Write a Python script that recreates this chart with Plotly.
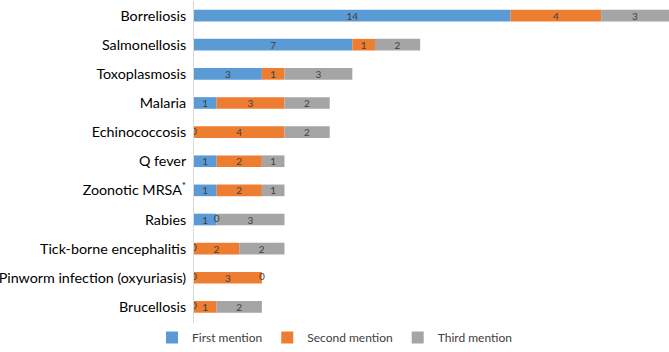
import plotly.graph_objects as go

categories = ["Borreliosis", "Salmonellosis", "Toxoplasmosis", "Malaria", "Echinococcosis",
              "Q fever", "Zoonotic MRSA<sup>*</sup>", "Rabies", "Tick-borne encephalitis",
              "Pinworm infection (oxyuriasis)", "Brucellosis"]
first = [14, 7, 3, 1, 0, 1, 1, 1, 0, 0, 0]
second = [4, 1, 1, 3, 4, 2, 2, 0, 2, 3, 1]
third = [3, 2, 3, 2, 2, 1, 1, 3, 2, 0, 2]

series = [("First mention", first, "#5B9BD5"),
          ("Second mention", second, "#ED7D31"),
          ("Third mention", third, "#A5A5A5")]

FONT = "Lato, Open Sans, sans-serif"
fig = go.Figure()
base = [0] * len(categories)
zx, zy = [], []
for name, vals, color in series:
    fig.add_trace(go.Bar(
        name=name, y=categories, x=vals, base=base, orientation="h",
        marker=dict(color=color, line=dict(width=0)), width=0.4,
        text=[str(v) if v else " " for v in vals], textposition="inside",
        insidetextanchor="middle", textangle=0,
        textfont=dict(color="#404040", size=10, family=FONT),
    ))
    for c, b, v in zip(categories, base, vals):
        if v == 0:
            zx.append(b)
            zy.append(c)
    base = [b + v for b, v in zip(base, vals)]

fig.add_trace(go.Scatter(x=zx, y=zy, mode="text", text=["0"] * len(zx),
                         textfont=dict(color="#404040", size=10, family=FONT),
                         showlegend=False, hoverinfo="skip"))

fig.update_layout(
    width=669, height=352, barmode="overlay",
    margin=dict(l=194, r=0, t=1, b=18),
    paper_bgcolor="white", plot_bgcolor="white",
    font=dict(family=FONT, color="#000000"),
    uniformtext=dict(minsize=6, mode="show"),
    xaxis=dict(range=[0, 21], autorange=False, visible=False, showgrid=False, zeroline=False),
    yaxis=dict(autorange="reversed", showgrid=False, zeroline=False,
               showline=True, linecolor="#D9D9D9", linewidth=1,
               ticks="", tickfont=dict(size=14.3, color="#000000", family=FONT),
               ticklabelstandoff=4),
    legend=dict(orientation="h", xref="container", yref="container",
                x=0.5, xanchor="center", y=-0.08, yanchor="bottom",
                font=dict(size=12, color="#404040", family=FONT),
                itemwidth=30, traceorder="normal"),
)

fig.write_html("out.html")
